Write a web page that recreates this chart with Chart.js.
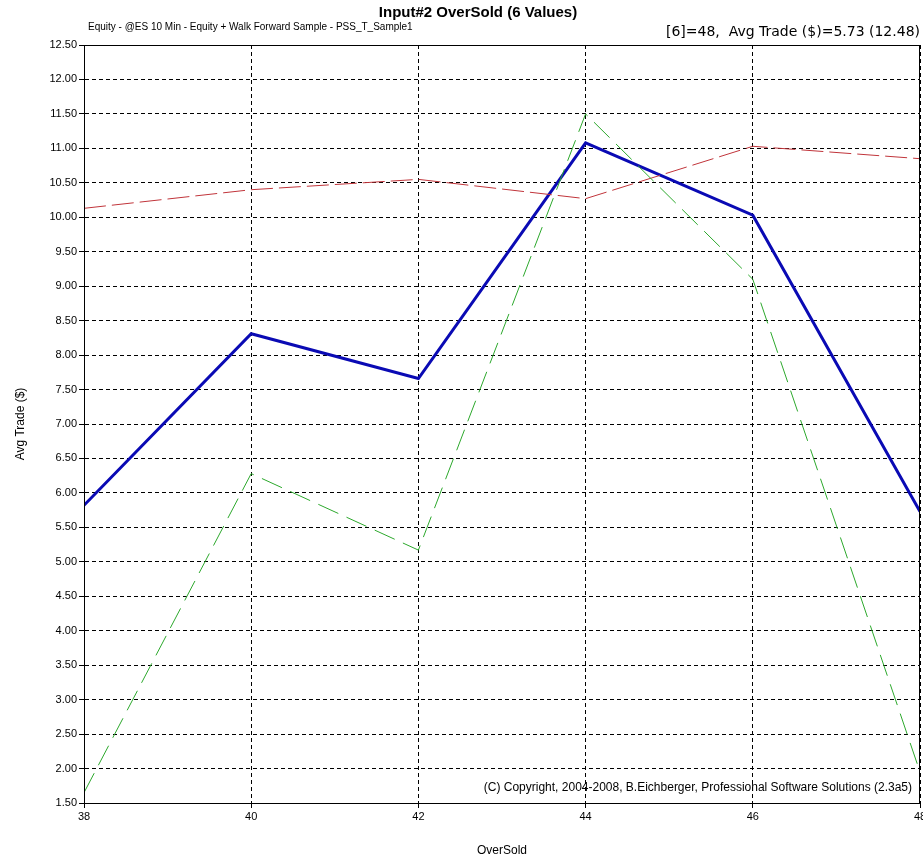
<!DOCTYPE html>
<html>
<head>
    <title>Input#2 OverSold</title>
    <script src="https://cdn.jsdelivr.net/npm/chart.js@4.4.0/dist/chart.umd.min.js"></script>
    <style>
        body { margin: 0; padding: 0; background: #fff; overflow: hidden; }
    </style>
</head>
<body>
<canvas id="myChart" width="923" height="858"></canvas>
<script>
// datos
const xValues = [38, 40, 42, 44, 46, 48];
const avgTrade = [5.82, 8.31, 7.66, 11.08, 10.03, 5.73];
const walkFwd = [1.65, 6.28, 5.17, 11.50, 9.10, 1.95];
const equityRef = [10.13, 10.40, 10.55, 10.27, 11.03, 10.85];

const titleText = 'Input#2 OverSold (6 Values)';
const subText = 'Equity - @ES 10 Min - Equity + Walk Forward Sample - PSS_T_Sample1';
const infoText = '[6]=48,  Avg Trade ($)=5.73 (12.48)';
const copyText = '(C) Copyright, 2004-2008, B.Eichberger, Professional Software Solutions (2.3a5)';

const FONT = '"Liberation Sans", Arial, sans-serif';

function pts(vals) {
    return vals.map((v, i) => ({ x: xValues[i], y: v }));
}

// textos y marco
const textos = {
    id: 'textos',
    afterDraw(chart) {
        const ctx = chart.ctx;
        const a = chart.chartArea;
        ctx.save();
        ctx.strokeStyle = '#000';
        ctx.lineWidth = 1;
        ctx.strokeRect(a.left + 0.5, a.top + 0.5, a.right - a.left - 1, a.bottom - a.top);
        ctx.fillStyle = '#000';
        ctx.textBaseline = 'middle';
        ctx.textAlign = 'center';
        ctx.font = 'bold 15px ' + FONT;
        ctx.fillText(titleText, 478, 13);
        ctx.textAlign = 'left';
        ctx.font = '10px ' + FONT;
        ctx.fillText(subText, 88, 27);
        ctx.textAlign = 'right';
        ctx.font = '14px "DejaVu Sans", sans-serif';
        ctx.fillText(infoText, 920, 32);
        ctx.font = '12px ' + FONT;
        ctx.fillText(copyText, 912, 788);
        ctx.restore();
    }
};

const ctx = document.getElementById('myChart').getContext('2d');
new Chart(ctx, {
    type: 'line',
    data: {
        datasets: [
            {
                data: pts(walkFwd),
                borderColor: '#2ca82c',
                borderWidth: 1,
                borderDash: [22, 9],
                pointRadius: 0,
                tension: 0
            },
            {
                data: pts(equityRef),
                borderColor: '#c0343a',
                borderWidth: 1,
                borderDash: [22, 6],
                pointRadius: 0,
                tension: 0
            },
            {
                data: pts(avgTrade),
                borderColor: '#0a0ab4',
                borderWidth: 3,
                pointRadius: 0,
                tension: 0
            }
        ]
    },
    options: {
        responsive: false,
        animation: false,
        layout: { padding: { top: 45, right: 3, left: 0, bottom: 0 } },
        plugins: {
            legend: { display: false },
            tooltip: { enabled: false }
        },
        scales: {
            x: {
                type: 'linear',
                min: 38,
                max: 48,
                ticks: {
                    stepSize: 2,
                    color: '#000',
                    font: { family: FONT, size: 11 },
                    padding: 2
                },
                grid: { color: '#000', lineWidth: 1, tickLength: 5 },
                border: { display: true, color: '#000', dash: [4, 3] },
                title: {
                    display: true,
                    text: 'OverSold',
                    color: '#000',
                    font: { family: FONT, size: 12 },
                    padding: { top: 20, bottom: 0 }
                },
                afterFit(scale) {
                    scale.height = 55;
                    scale.paddingLeft = 0;
                    scale.paddingRight = 0;
                }
            },
            y: {
                min: 1.5,
                max: 12.5,
                ticks: {
                    stepSize: 0.5,
                    autoSkip: false,
                    color: '#000',
                    font: { family: FONT, size: 11 },
                    padding: 2,
                    callback: v => v.toFixed(2)
                },
                grid: { color: '#000', lineWidth: 1, tickLength: 5 },
                border: { display: true, color: '#000', dash: [4, 3] },
                title: {
                    display: true,
                    text: 'Avg Trade ($)',
                    color: '#000',
                    font: { family: FONT, size: 12 },
                    padding: { top: 13, bottom: 8 }
                },
                afterFit(scale) {
                    scale.width = 84;
                    scale.paddingTop = 0;
                    scale.paddingBottom = 0;
                }
            }
        }
    },
    plugins: [textos]
});
</script>
</body>
</html>
